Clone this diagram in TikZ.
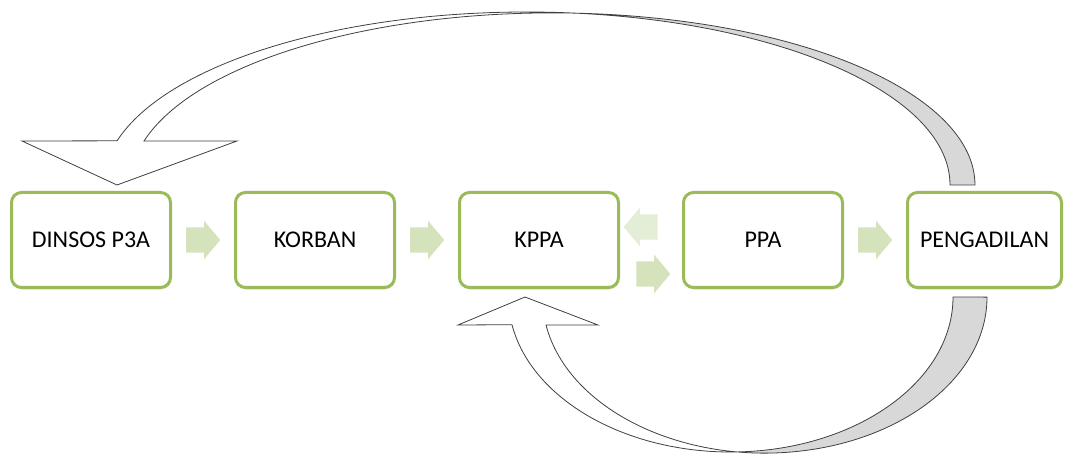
\documentclass[tikz,border=0pt]{standalone}
\usepackage{fontspec}
\setmainfont{Carlito}
\usetikzlibrary{positioning,shapes.arrows,shadows}
\definecolor{boxgreen}{HTML}{9BBB59}
\definecolor{flowgreen}{HTML}{D5E3BC}
\definecolor{flowlight}{HTML}{E4EDD5}
\definecolor{backgrey}{HTML}{D8D8D8}

\begin{document}
\begin{tikzpicture}[x=1pt,y=-1pt,
  box/.style={draw=boxgreen,line width=3pt,rounded corners=10pt,fill=white,
    minimum width=159pt,minimum height=95pt,font=\fontsize{24}{28}\selectfont,
    drop shadow={shadow xshift=0.5pt,shadow yshift=-2pt,opacity=0.2}},
  flow/.style={single arrow,fill=flowgreen,minimum height=34pt,inner xsep=0pt,
    inner ysep=12.5pt,single arrow head extend=6.5pt,single arrow tip angle=100},
  bigline/.style={draw=black!75,line width=0.8pt}]
  \useasboundingbox (0,0) rectangle (1065,454);

  % the five stations
  \node[box] (dinsos) at (91,240) {DINSOS P3A};
  \node[box] (korban) [right=62pt of dinsos] {KORBAN};
  \node[box] (kppa)   [right=62pt of korban] {KPPA};
  \node[box] (ppa)    [right=62pt of kppa]   {PPA};
  \node[box,minimum width=154pt] (pengadilan) [right=62pt of ppa] {PENGADILAN};

  % small arrows between the stations
  \node[flow] (f1) [right=14pt of dinsos] {};
  \node[flow] (f2) [right=14pt of korban] {};
  \node[flow,fill=flowlight,shape border rotate=180] (f3)
    at ([xshift=26pt,yshift=13pt]kppa.east) {};
  \node[flow] (f4) at ([xshift=28pt,yshift=-34pt]kppa.east) {};
  \node[flow] (f5) [right=14pt of ppa] {};

  % curved arrow over the top, back to DINSOS P3A
  \def\toppath{(22,141) -- (117,185) -- (237,141) -- (144,141)
    arc[start angle=-165.2,end angle=0,x radius=422.5,y radius=172] -- (950,185)
    arc[start angle=0,end angle=-165.2,x radius=423.5,y radius=173] -- cycle}
  \fill[white] \toppath;
  \begin{scope}
    \clip (580,0) rectangle (1065,200);
    \fill[backgrey] \toppath;
  \end{scope}
  \draw[bigline] \toppath;

  % curved arrow underneath, back to KPPA
  \def\botpath{(458,325) -- (525,297) -- (598,325) -- (546,325)
    arc[start angle=169.7,end angle=0,x radius=222.3,y radius=156] -- (953,297)
    arc[start angle=0,end angle=169.7,x radius=222.3,y radius=155] -- cycle}
  \fill[white] \botpath;
  \begin{scope}
    \clip (748,280) rectangle (1065,454);
    \fill[backgrey] \botpath;
  \end{scope}
  \draw[bigline] \botpath;
\end{tikzpicture}
\end{document}
